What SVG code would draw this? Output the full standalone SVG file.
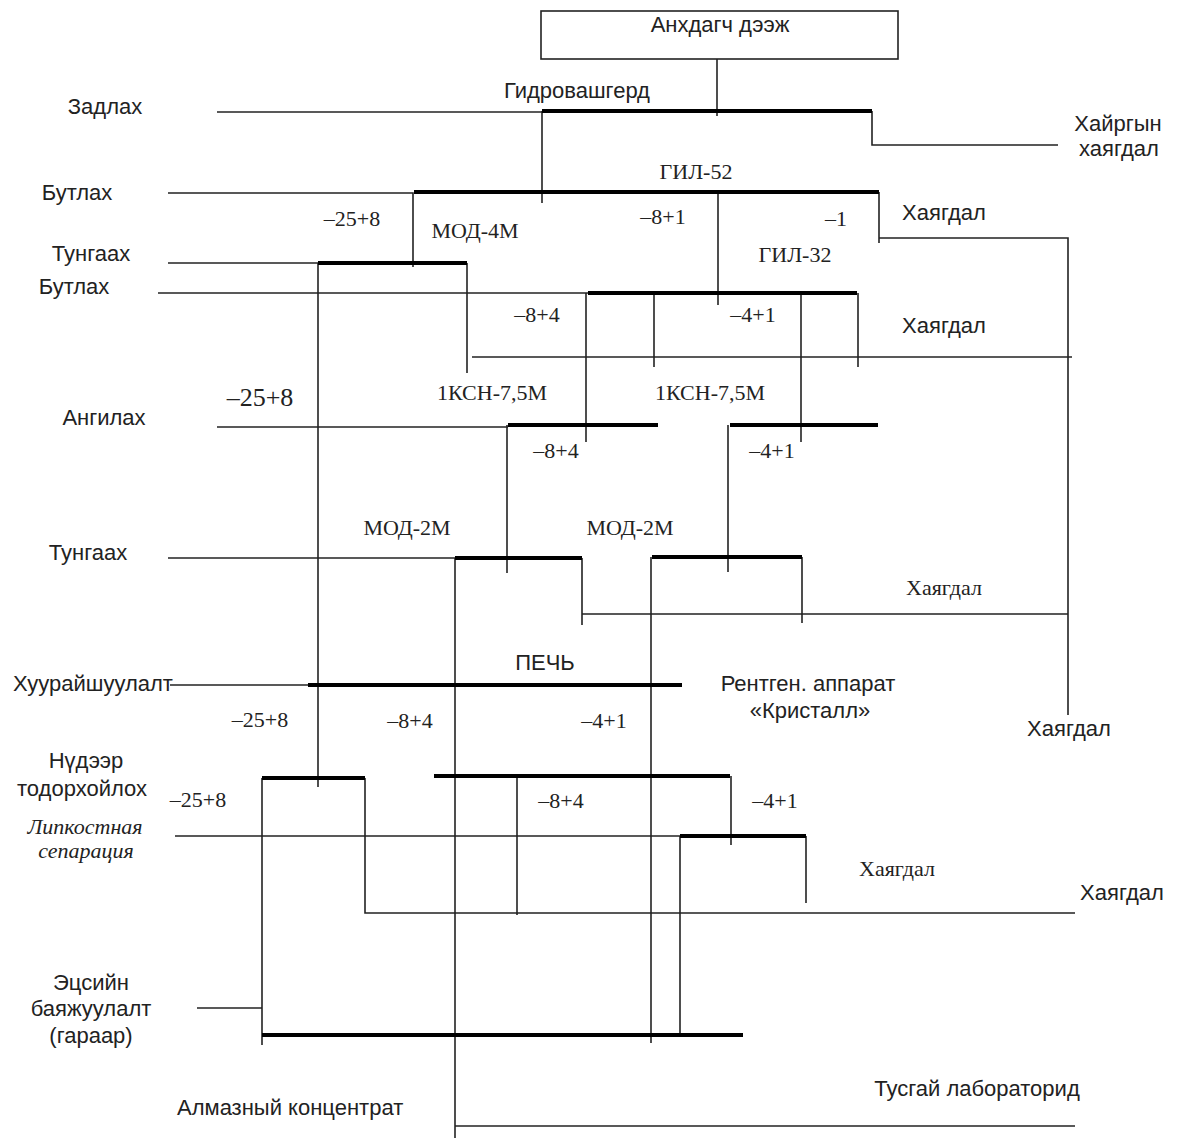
<svg xmlns="http://www.w3.org/2000/svg" width="1181" height="1140" viewBox="0 0 1181 1140">
  <style>
    .thin { stroke: #222; stroke-width: 1.6; fill: none; stroke-linecap: butt; }
    .bar { stroke: #000; stroke-width: 4; fill: none; }
    .box { stroke: #222; stroke-width: 1.6; fill: #fff; }
    .sans { font-family: "Liberation Sans", Arial, sans-serif; font-size: 22px; fill: #222; }
    .serif { font-family: "Liberation Serif", "Times New Roman", serif; font-size: 22px; fill: #222; }
    .ital { font-family: "Liberation Serif", "Times New Roman", serif; font-size: 22px; font-style: italic; fill: #222; }
    .mid { text-anchor: middle; }
  </style>
  <rect width="1181" height="1140" fill="#fff"/>

  <!-- stage names along the left edge -->
  <g id="stages" class="sans mid">
    <text x="105" y="114">Задлах</text>
    <text x="77" y="200">Бутлах</text>
    <text x="91" y="261">Тунгаах</text>
    <text x="74" y="294">Бутлах</text>
    <text x="104" y="425">Ангилах</text>
    <text x="88" y="560">Тунгаах</text>
    <text x="93" y="691">Хуурайшуулалт</text>
    <text x="86" y="768">Нүдээр</text>
    <text x="82" y="796">тодорхойлох</text>
    <text x="91" y="990">Эцсийн</text>
    <text x="91" y="1016">баяжуулалт</text>
    <text x="91" y="1043">(гараар)</text>
  </g>
  <g id="stage-lipkost" class="ital mid">
    <text x="85" y="834">Липкостная</text>
    <text x="86" y="858">сепарация</text>
  </g>

  <!-- process lines between the units -->
  <g id="connectors" class="thin">
    <path d="M717 59V116"/>
    <path d="M217 112H542"/>
    <path d="M542 111V203"/>
    <path d="M872 111V145H1058"/>
    <path d="M168 193H413V267"/>
    <path d="M718 192V305"/>
    <path d="M879 192V243M879 238H1068V715"/>
    <path d="M168 263H318"/>
    <path d="M318 263V787"/>
    <path d="M467 263V373"/>
    <path d="M158 293H588"/>
    <path d="M472 357H1072"/>
    <path d="M586 293V442"/>
    <path d="M654 293V367"/>
    <path d="M801 293V442"/>
    <path d="M858 293V367"/>
    <path d="M217 427H508"/>
    <path d="M507 425V573"/>
    <path d="M728 425V572"/>
    <path d="M168 558H455"/>
    <path d="M455 558V1138"/>
    <path d="M582 558V625M582 614H1068"/>
    <path d="M651 557V1043"/>
    <path d="M802 557V623"/>
    <path d="M170 685H308"/>
    <path d="M262 778V1045"/>
    <path d="M365 778V913H1075"/>
    <path d="M517 776V915"/>
    <path d="M731 776V845"/>
    <path d="M175 836H680"/>
    <path d="M680 836V1037"/>
    <path d="M806 836V903"/>
    <path d="M197 1008H262"/>
    <path d="M455 1126H1075"/>
  </g>

  <!-- feed -->
  <g id="feed">
    <rect class="box" x="541" y="11" width="357" height="48"/>
    <text class="sans mid" x="720" y="32">Анхдагч дээж</text>
  </g>

  <!-- units -->
  <g id="hydrowasher">
    <path class="bar" d="M542 111H872"/>
    <text class="sans mid" x="577" y="98">Гидровашгерд</text>
  </g>
  <g id="gil52">
    <path class="bar" d="M414 192H879"/>
    <text class="serif mid" x="696" y="179">ГИЛ-52</text>
    <text class="serif mid" x="352" y="226">–25+8</text>
    <text class="serif mid" x="663" y="224">–8+1</text>
    <text class="serif mid" x="836" y="226">–1</text>
  </g>
  <g id="mod4m">
    <path class="bar" d="M318 263H467"/>
    <text class="serif mid" x="475" y="238">МОД-4М</text>
  </g>
  <g id="gil32">
    <path class="bar" d="M588 293H857"/>
    <text class="serif mid" x="795" y="262">ГИЛ-32</text>
    <text class="serif mid" x="537" y="322">–8+4</text>
    <text class="serif mid" x="753" y="322">–4+1</text>
  </g>
  <g id="ksn-1">
    <path class="bar" d="M508 425H658"/>
    <text class="serif mid" x="492" y="400">1КСН-7,5М</text>
    <text class="serif mid" x="556" y="458">–8+4</text>
  </g>
  <g id="ksn-2">
    <path class="bar" d="M730 425H878"/>
    <text class="serif mid" x="710" y="400">1КСН-7,5М</text>
    <text class="serif mid" x="772" y="458">–4+1</text>
  </g>
  <g id="coarse-bypass">
    <text class="serif mid" x="260" y="406" style="font-size:26px">–25+8</text>
  </g>
  <g id="mod2m-1">
    <path class="bar" d="M455 558H582"/>
    <text class="serif mid" x="407" y="535">МОД-2М</text>
  </g>
  <g id="mod2m-2">
    <path class="bar" d="M652 557H802"/>
    <text class="serif mid" x="630" y="535">МОД-2М</text>
  </g>
  <g id="pech">
    <path class="bar" d="M308 685H682"/>
    <text class="sans mid" x="545" y="670">ПЕЧЬ</text>
    <text class="serif mid" x="260" y="727">–25+8</text>
    <text class="serif mid" x="410" y="728">–8+4</text>
    <text class="serif mid" x="604" y="728">–4+1</text>
  </g>
  <g id="visual-sort">
    <path class="bar" d="M262 778H365"/>
    <text class="serif mid" x="198" y="807">–25+8</text>
  </g>
  <g id="xray">
    <path class="bar" d="M434 776H730"/>
    <text class="sans mid" x="808" y="691">Рентген. аппарат</text>
    <text class="sans mid" x="810" y="718">«Кристалл»</text>
    <text class="serif mid" x="561" y="808">–8+4</text>
    <text class="serif mid" x="775" y="808">–4+1</text>
  </g>
  <g id="lipkost">
    <path class="bar" d="M680 836H806"/>
  </g>
  <g id="final">
    <path class="bar" d="M262 1035H743"/>
  </g>

  <!-- outputs -->
  <g id="outputs">
    <text class="sans mid" x="1118" y="131">Хайргын</text>
    <text class="sans mid" x="1119" y="156">хаягдал</text>
    <text class="sans mid" x="944" y="220">Хаягдал</text>
    <text class="sans mid" x="944" y="333">Хаягдал</text>
    <text class="serif mid" x="944" y="595">Хаягдал</text>
    <text class="sans mid" x="1069" y="736">Хаягдал</text>
    <text class="serif mid" x="897" y="876">Хаягдал</text>
    <text class="sans mid" x="1122" y="900">Хаягдал</text>
    <text class="sans mid" x="977" y="1096">Тусгай лабораторид</text>
    <text class="sans" x="177" y="1115">Алмазный концентрат</text>
  </g>
</svg>
